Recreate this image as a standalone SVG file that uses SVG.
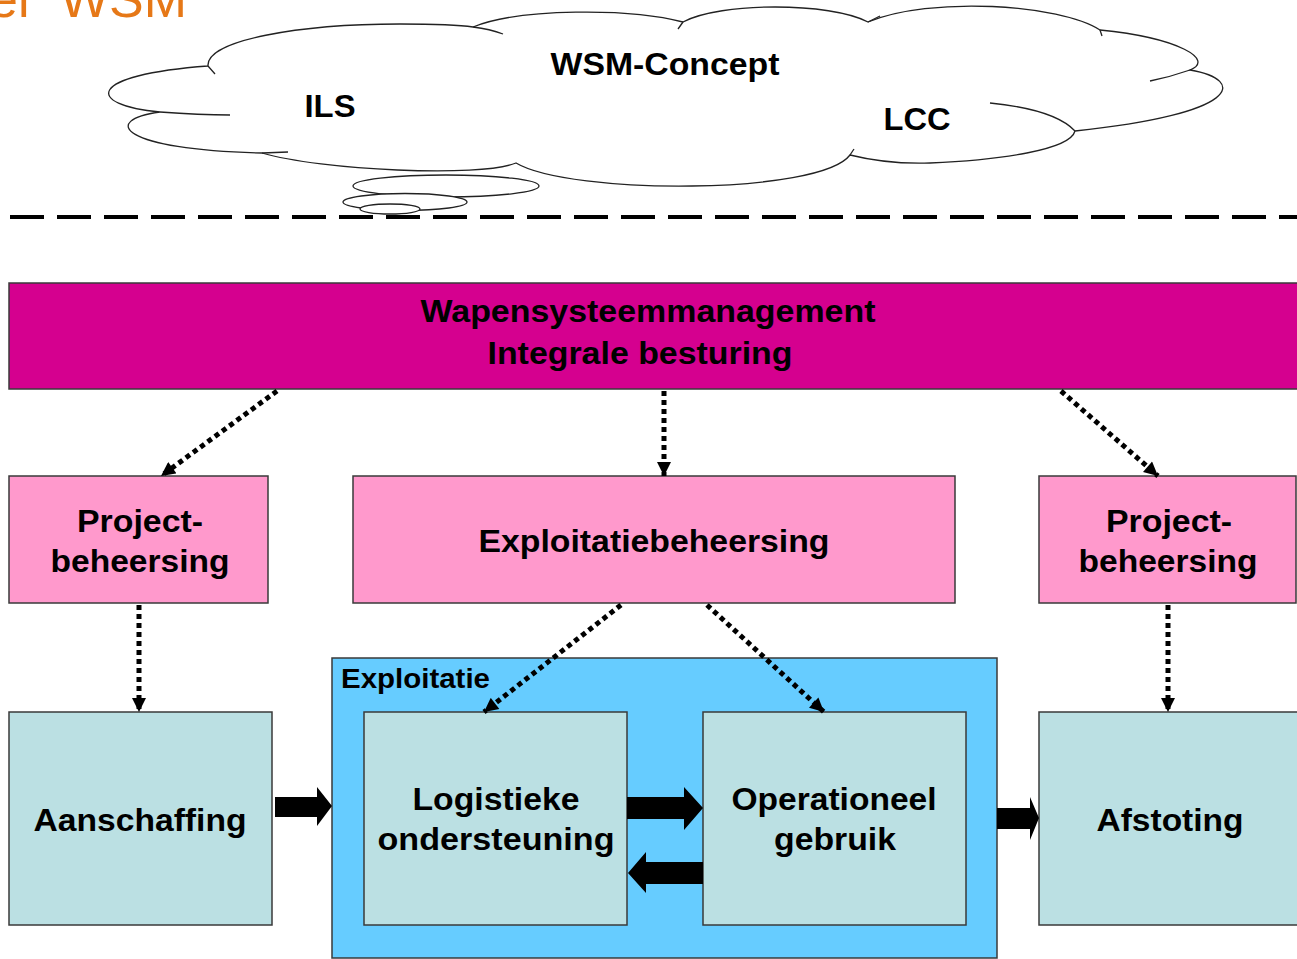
<svg xmlns="http://www.w3.org/2000/svg" width="1297" height="959" viewBox="0 0 1297 959">
  <defs>
    <style>
      .t { font-family: "Liberation Sans", Arial, sans-serif; font-weight: bold; fill: #000; text-anchor: middle; }
      .box { stroke: #3a3a3a; stroke-width: 1.5; }
      .mag { fill: #D5008F; }
      .pink { fill: #FF99CC; }
      .teal { fill: #BBE0E3; }
      .blue { fill: #66CCFF; }
      .dot { stroke: #000; stroke-width: 5; stroke-dasharray: 5 4; fill: none; marker-end: url(#tri); }
      .blk { fill: #000; }
      .cloud { fill: #fff; stroke: #222; stroke-width: 1.3; }
      .stub { fill: none; stroke: #222; stroke-width: 1.3; }
    </style>
    <marker id="tri" viewBox="0 0 14 14" refX="14" refY="7" markerWidth="15" markerHeight="14" markerUnits="userSpaceOnUse" orient="auto">
      <path d="M0,0 L14,7 L0,14 Z" fill="#000"/>
    </marker>
  </defs>

  <rect width="1297" height="959" fill="#fff"/>

  <!-- slide title, clipped by the top edge -->
  <text y="17" font-family="Liberation Sans, Arial, sans-serif" font-size="52" fill="#E67817"><tspan x="-11">el</tspan><tspan x="60" textLength="127" lengthAdjust="spacingAndGlyphs">WSM</tspan></text>

  <!-- concept cloud -->
  <g id="cloud">
    <path class="cloud" d="M208,66 C206,40 300,24 400,24 C440,24 460,25 473,27 C520,8 630,8 683,22 C720,2 830,2 868,22 C930,-4 1060,4 1100,30 C1180,38 1215,60 1190,70 C1248,80 1240,114 1075,131 C1070,150 1000,160 930,163 C900,164 870,160 850,155 C820,195 570,195 516,163 C480,178 320,170 262,153 C120,150 100,120 160,112 C85,105 85,75 208,66 Z"/>
    <path class="stub" d="M208,66 L215,74 M473,27 Q490,29 503,34 M683,22 L678,29 M868,22 L880,16 M1100,30 L1102,36 M1190,70 Q1170,77 1150,81 M1075,131 C1060,115 1030,107 990,103 M850,155 L854,149 M262,153 L288,152 M160,112 Q200,115 230,115"/>
    <ellipse class="cloud" cx="446" cy="186" rx="93" ry="11"/>
    <ellipse class="cloud" cx="405" cy="202" rx="62" ry="8.5"/>
    <ellipse class="cloud" cx="390" cy="209" rx="30" ry="5"/>
    <text class="t" x="665" y="75" font-size="31" textLength="229" lengthAdjust="spacingAndGlyphs">WSM-Concept</text>
    <text class="t" x="330" y="117" font-size="31" textLength="51" lengthAdjust="spacingAndGlyphs">ILS</text>
    <text class="t" x="917" y="130" font-size="31" textLength="67" lengthAdjust="spacingAndGlyphs">LCC</text>
  </g>

  <!-- boundary line -->
  <line x1="10" y1="217" x2="1297" y2="217" stroke="#000" stroke-width="4" stroke-dasharray="34 13"/>

  <g id="wsm">
    <rect class="box mag" x="9" y="283" width="1300" height="106"/>
    <text class="t" x="648" y="322" font-size="31" textLength="455" lengthAdjust="spacingAndGlyphs">Wapensysteemmanagement</text>
    <text class="t" x="640" y="364" font-size="31" textLength="305" lengthAdjust="spacingAndGlyphs">Integrale besturing</text>
  </g>

  <g id="project-left">
    <rect class="box pink" x="9" y="476" width="259" height="127"/>
    <text class="t" x="140" y="532" font-size="31" textLength="126" lengthAdjust="spacingAndGlyphs">Project-</text>
    <text class="t" x="140" y="572" font-size="31" textLength="179" lengthAdjust="spacingAndGlyphs">beheersing</text>
  </g>

  <g id="exploitatiebeheersing">
    <rect class="box pink" x="353" y="476" width="602" height="127"/>
    <text class="t" x="654" y="552" font-size="31" textLength="351" lengthAdjust="spacingAndGlyphs">Exploitatiebeheersing</text>
  </g>

  <g id="project-right">
    <rect class="box pink" x="1039" y="476" width="257" height="127"/>
    <text class="t" x="1169" y="532" font-size="31" textLength="126" lengthAdjust="spacingAndGlyphs">Project-</text>
    <text class="t" x="1168" y="572" font-size="31" textLength="179" lengthAdjust="spacingAndGlyphs">beheersing</text>
  </g>

  <g id="exploitatie">
    <rect class="box blue" x="332" y="658" width="665" height="300"/>
    <text class="t" x="341" y="688" font-size="28" style="text-anchor:start" textLength="149" lengthAdjust="spacingAndGlyphs">Exploitatie</text>
  </g>

  <g id="aanschaffing">
    <rect class="box teal" x="9" y="712" width="263" height="213"/>
    <text class="t" x="140" y="831" font-size="31" textLength="213" lengthAdjust="spacingAndGlyphs">Aanschaffing</text>
  </g>

  <g id="logistieke-ondersteuning">
    <rect class="box teal" x="364" y="712" width="263" height="213"/>
    <text class="t" x="496" y="810" font-size="31" textLength="167" lengthAdjust="spacingAndGlyphs">Logistieke</text>
    <text class="t" x="496" y="850" font-size="31" textLength="237" lengthAdjust="spacingAndGlyphs">ondersteuning</text>
  </g>

  <g id="operationeel-gebruik">
    <rect class="box teal" x="703" y="712" width="263" height="213"/>
    <text class="t" x="834" y="810" font-size="31" textLength="205" lengthAdjust="spacingAndGlyphs">Operationeel</text>
    <text class="t" x="835" y="850" font-size="31" textLength="122" lengthAdjust="spacingAndGlyphs">gebruik</text>
  </g>

  <g id="afstoting">
    <rect class="box teal" x="1039" y="712" width="270" height="213"/>
    <text class="t" x="1170" y="831" font-size="31" textLength="147" lengthAdjust="spacingAndGlyphs">Afstoting</text>
  </g>

  <g id="connectors">
    <!-- dotted control lines -->
    <line class="dot" x1="277" y1="391" x2="161" y2="476"/>
    <line class="dot" x1="664" y1="391" x2="664" y2="476"/>
    <line class="dot" x1="1061" y1="391" x2="1158" y2="476"/>
    <line class="dot" x1="139" y1="605" x2="139" y2="712"/>
    <line class="dot" x1="1168" y1="605" x2="1168" y2="712"/>
    <line class="dot" x1="621" y1="605" x2="484" y2="712"/>
    <line class="dot" x1="707" y1="605" x2="824" y2="712"/>
    <!-- block arrows for the life-cycle flow -->
    <polygon class="blk" points="275,797 317,797 317,787 332,806 317,826 317,817 275,817"/>
    <polygon class="blk" points="627,797 684,797 684,787 703,808 684,830 684,819 627,819"/>
    <polygon class="blk" points="703,862 646,862 646,852 628,873 646,893 646,884 703,884"/>
    <polygon class="blk" points="997,808 1030,808 1030,797 1039,818 1030,840 1030,829 997,829"/>
  </g>
</svg>
